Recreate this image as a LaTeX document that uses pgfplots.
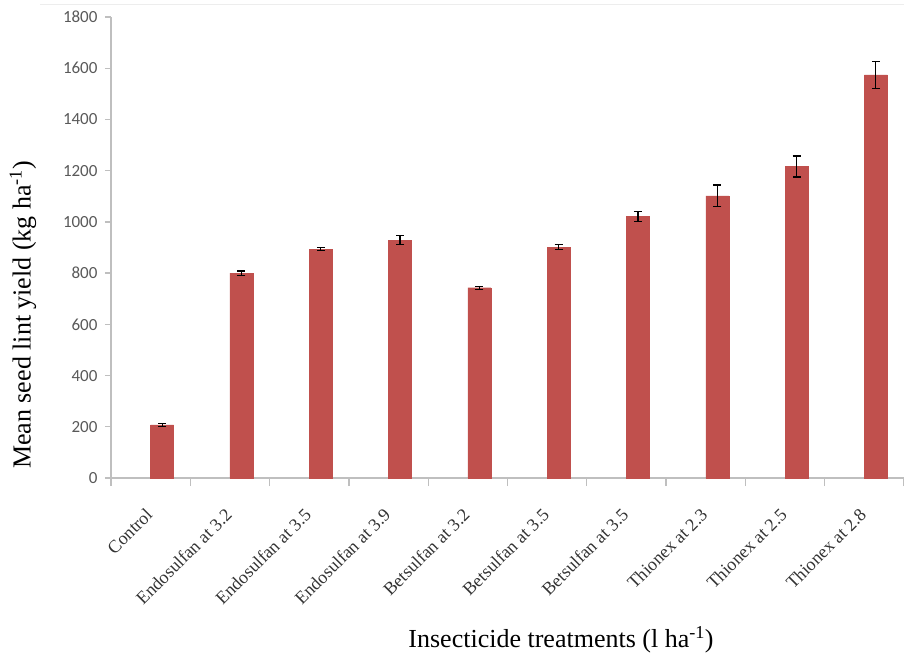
\documentclass[border=0pt]{standalone}
\usepackage{fontspec}
\setmainfont{Liberation Serif}
\newfontfamily\calib{Carlito}
\usepackage{pgfplots}
\pgfplotsset{compat=1.18}
\definecolor{barred}{HTML}{C0504D}
\definecolor{axgray}{HTML}{BFBFBF}
\definecolor{tickgray}{HTML}{595959}
\definecolor{labgray}{HTML}{333333}
\begin{document}
\begin{tikzpicture}
\useasboundingbox (0,0) rectangle (904pt,654pt);
\draw[color=black!7, line width=1pt] (40pt,649pt) -- (904pt,649pt);
\begin{axis}[
  at={(111pt,176pt)}, anchor=south west,
  width=793pt, height=461pt, scale only axis,
  xmin=-0.5, xmax=9.5, ymin=0, ymax=1800,
  enlargelimits=false,
  axis x line*=bottom, axis y line*=left,
  axis line style={axgray, line width=1.3pt},
  tick align=outside,
  ytick={0,200,...,1800},
  xtick={0,...,9},
  xticklabels={Control, Endosulfan at 3.2, Endosulfan at 3.5, Endosulfan at 3.9, Betsulfan at 3.2, Betsulfan at 3.5, Betsulfan at 3.5, Thionex at 2.3, Thionex at 2.5, Thionex at 2.8},
  minor xtick={-0.5,0.5,...,9.5},
  major x tick style={draw=none},
  minor x tick style={axgray, line width=1.3pt},
  minor tick length=8pt,
  y tick style={axgray, line width=1.3pt},
  major tick length=6pt,
  yticklabel style={font=\calib\fontsize{17}{17}\selectfont, text=tickgray, /pgf/number format/1000 sep={}, /pgf/number format/assume math mode=true, xshift=-4pt},
  xticklabel style={font=\fontsize{18}{18}\selectfont, text=labgray, xshift=-6pt, yshift=-23pt, rotate=45, anchor=north east, inner sep=0pt},
  xlabel={Insecticide treatments (l ha\textsuperscript{-1})},
  ylabel={Mean seed lint yield (kg ha\textsuperscript{-1})},
  xlabel style={at={(axis description cs:0.5675,-0.351)}, anchor=center, font=\fontsize{26}{26}\selectfont},
  ylabel style={at={(axis description cs:-0.111,0.354)}, anchor=center, font=\fontsize{26}{26}\selectfont},
  ybar, bar width=23pt, bar shift=11.5pt,
]
\addplot[fill=barred, draw=barred,
  error bars/.cd, y dir=both, y explicit,
  error bar style={black, line width=1.2pt},
  error mark options={rotate=90, mark size=4pt, line width=1.2pt, black}]
coordinates {
  (0,207) +- (0,6)
  (1,800) +- (0,8)
  (2,894) +- (0,5)
  (3,929) +- (0,17)
  (4,743) +- (0,6)
  (5,901) +- (0,10)
  (6,1022) +- (0,20)
  (7,1102) +- (0,42)
  (8,1216) +- (0,41)
  (9,1574) +- (0,52)
};
\end{axis}
\end{tikzpicture}
\end{document}
